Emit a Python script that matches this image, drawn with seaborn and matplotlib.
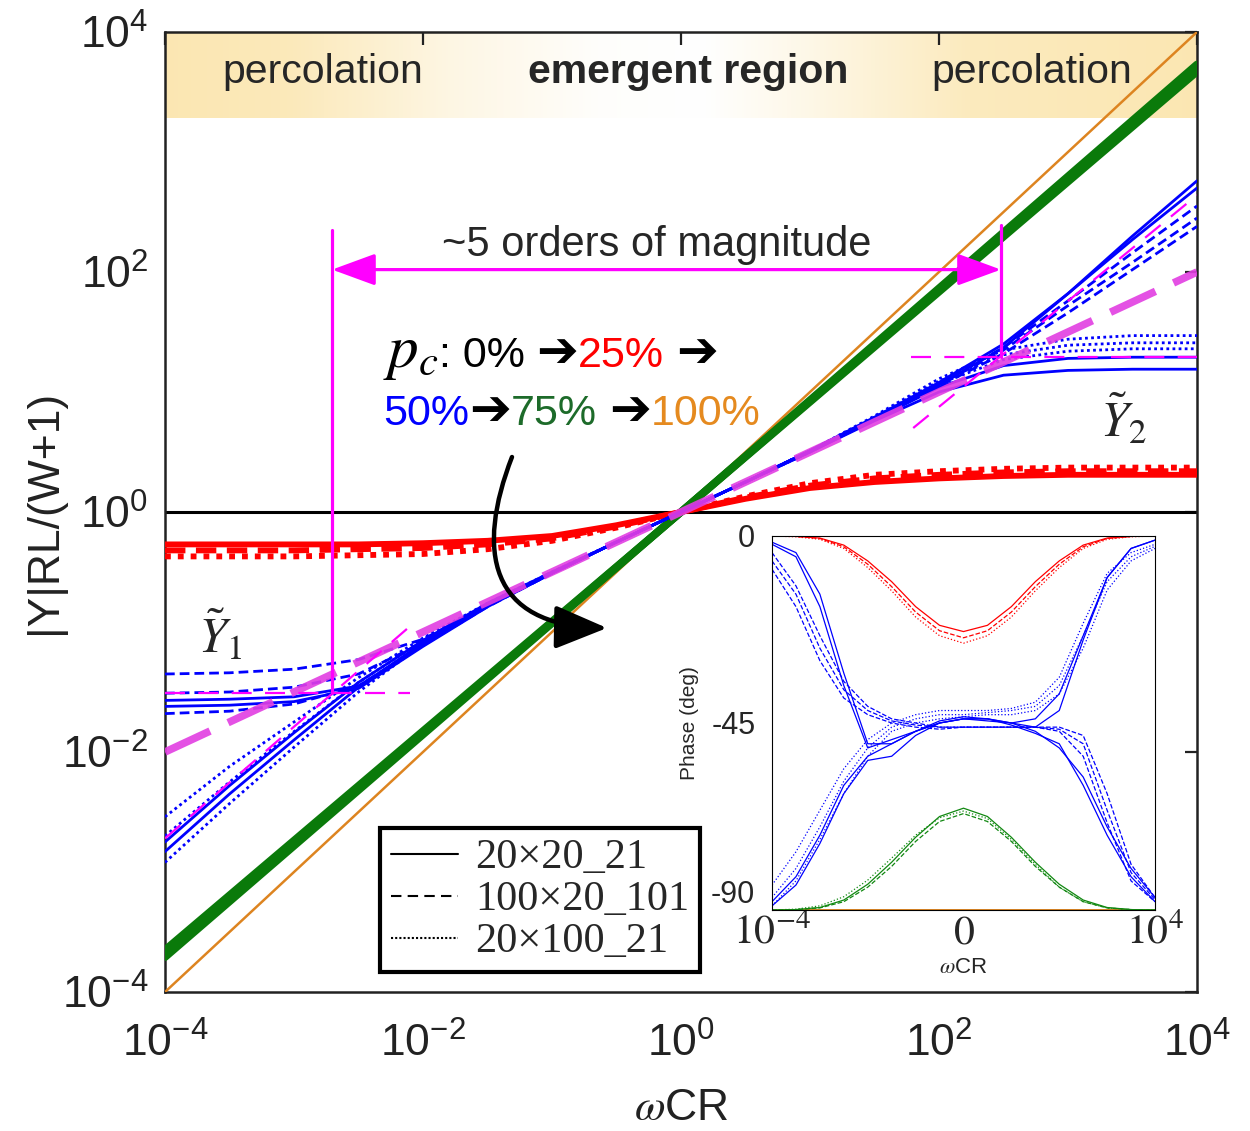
import numpy as np
import matplotlib
matplotlib.use("Agg")
import matplotlib.pyplot as plt
import seaborn as sns
from matplotlib.lines import Line2D
from matplotlib.patches import FancyArrowPatch
from matplotlib.path import Path
from matplotlib.offsetbox import TextArea, HPacker, VPacker, AnnotationBbox
import matplotlib.ticker as mticker

# ---------------------------------------------------------------- data
# log10(omega*C*R) sample grid (half decades)
LOG_W = [-4, -3.5, -3, -2.5, -2, -1.5, -1, -0.5, 0, 0.5, 1, 1.5, 2, 2.5, 3, 3.5, 4]
LOG_W3 = [-4, 0, 4]

# magnitude, log10(|Y|RL/(W+1))
# p_c = 0 %  (red)
mag_red_solid  = [-0.27, -0.27, -0.27, -0.27, -0.26, -0.24, -0.20, -0.11, 0, 0.11, 0.20, 0.25, 0.28, 0.30, 0.31, 0.31, 0.31]
mag_red_dash   = [-0.32, -0.32, -0.32, -0.31, -0.30, -0.27, -0.22, -0.12, 0, 0.12, 0.22, 0.28, 0.31, 0.33, 0.34, 0.34, 0.34]
mag_red_dot    = [-0.37, -0.37, -0.37, -0.36, -0.35, -0.31, -0.24, -0.13, 0, 0.13, 0.24, 0.31, 0.34, 0.36, 0.37, 0.37, 0.37]
# p_c = 50 % (blue)
mag_blue_s1 = [-1.62, -1.61, -1.58, -1.47, -1.12, -0.79, -0.51, -0.25, 0, 0.25, 0.51, 0.78, 1.06, 1.37, 1.82, 2.30, 2.76]
mag_blue_s2 = [-1.57, -1.56, -1.54, -1.45, -1.11, -0.78, -0.51, -0.25, 0, 0.25, 0.50, 0.76, 1.00, 1.14, 1.18, 1.19, 1.19]
mag_blue_s3 = [-2.83, -2.35, -1.90, -1.46, -1.09, -0.77, -0.51, -0.25, 0, 0.25, 0.51, 0.79, 1.08, 1.40, 1.82, 2.27, 2.70]
mag_blue_s4 = [-2.75, -2.28, -1.84, -1.42, -1.07, -0.76, -0.50, -0.25, 0, 0.25, 0.50, 0.77, 1.04, 1.22, 1.28, 1.29, 1.29]
mag_blue_d1 = [-1.35, -1.34, -1.31, -1.23, -1.06, -0.78, -0.51, -0.25, 0, 0.25, 0.51, 0.78, 1.07, 1.37, 1.76, 2.16, 2.55]
mag_blue_d2 = [-1.51, -1.50, -1.46, -1.35, -1.09, -0.78, -0.51, -0.25, 0, 0.25, 0.51, 0.78, 1.06, 1.35, 1.72, 2.08, 2.45]
mag_blue_d3 = [-1.68, -1.66, -1.60, -1.45, -1.11, -0.79, -0.51, -0.25, 0, 0.25, 0.51, 0.78, 1.05, 1.32, 1.66, 2.02, 2.38]
mag_blue_t1 = [-2.54, -2.12, -1.75, -1.38, -1.05, -0.76, -0.50, -0.25, 0, 0.25, 0.51, 0.80, 1.11, 1.35, 1.44, 1.47, 1.47]
mag_blue_t2 = [-2.70, -2.25, -1.83, -1.42, -1.07, -0.77, -0.50, -0.25, 0, 0.25, 0.51, 0.79, 1.09, 1.31, 1.39, 1.41, 1.41]
mag_blue_t3 = [-2.92, -2.43, -1.96, -1.50, -1.10, -0.78, -0.51, -0.25, 0, 0.25, 0.50, 0.78, 1.07, 1.27, 1.34, 1.36, 1.36]
# p_c = 75 % (green) and 100 % (orange), on LOG_W3
mag_green_1 = [-3.68, 0, 3.70]
mag_green_2 = [-3.65, 0, 3.73]
mag_green_3 = [-3.71, 0, 3.67]
mag_orange  = [-4.0, 0, 4.0]
# slope-1/2 guide (thick magenta dashes), on LOG_W3
mag_guide_half = [-2.0, 0, 2.0]

# magenta construction lines (log10 values)
plateau_left_x,  plateau_left_y  = [-4.0, -2.1], [-1.51, -1.51]
plateau_right_x, plateau_right_y = [1.78, 4.0], [1.29, 1.29]
diag_left_x,  diag_left_y  = [-4.0, -2.12], [-2.72, -0.97]
diag_right_x, diag_right_y = [1.80, 4.0], [0.70, 2.64]
cross_left_x, cross_right_x = -2.705, 2.48
vline_left_y  = [-1.51, 2.35]
vline_right_y = [1.29, 2.39]
arrow_y = 2.02

# phase (deg) for the inset
ph_red_solid = [0, -0.1, -0.5, -2.2, -6.0, -11.0, -17.0, -21.5, -23.0, -21.5, -17.0, -11.0, -6.0, -2.2, -0.5, -0.1, 0]
ph_red_dash  = [0, -0.1, -0.6, -2.6, -6.8, -12.2, -18.3, -22.8, -24.5, -22.8, -18.3, -12.2, -6.8, -2.6, -0.6, -0.1, 0]
ph_red_dot   = [0, -0.2, -0.8, -3.0, -7.6, -13.2, -19.5, -24.0, -25.8, -24.0, -19.5, -13.2, -7.6, -3.0, -0.8, -0.2, 0]
ph_green_1 = [-90, -89.9, -89.4, -87.6, -83.8, -78.5, -72.5, -67.5, -65.5, -67.5, -72.5, -78.5, -83.8, -87.6, -89.4, -89.9, -90]
ph_green_2 = [-90, -89.9, -89.5, -88.0, -84.5, -79.5, -73.5, -68.7, -66.8, -68.7, -73.5, -79.5, -84.5, -88.0, -89.5, -89.9, -90]
ph_green_3 = [-90, -89.8, -89.0, -86.8, -82.8, -77.5, -72.0, -67.8, -66.2, -68.0, -73.0, -79.0, -84.5, -88.0, -89.5, -89.9, -90]
ph_orange = [-90, -90, -90]
ph_blue_s1 = [-2, -5, -17, -36, -51, -49, -47, -44.5, -43.5, -44, -45.5, -47.5, -50, -60, -72, -82, -88]
ph_blue_s2 = [-1.5, -4, -14, -33, -50, -50, -47, -45, -44, -44, -45, -46, -42, -25, -10, -3, -1]
ph_blue_s3 = [-89, -84, -74, -62, -54, -53, -48, -45, -44, -44, -45, -47, -51, -58, -70, -80, -87]
ph_blue_s4 = [-88, -82, -72, -60, -53, -50, -47, -45, -44, -44.5, -45, -44, -38, -24, -10, -3, -1]
ph_blue_d1 = [-4, -12, -24, -35, -41, -44, -45, -46, -46, -46, -46, -46, -46, -48, -62, -79, -87]
ph_blue_d2 = [-6, -14, -27, -37, -42, -44.5, -45.5, -46, -46, -46, -46, -46, -46.5, -50, -66, -81, -87.5]
ph_blue_d3 = [-8, -17, -30, -39, -43, -45, -46, -46.5, -46, -46, -46, -46, -47, -53, -69, -83, -88]
ph_blue_t1 = [-84, -76, -66, -56, -49, -45, -43, -42, -42, -42, -41.5, -40, -34, -21, -9, -4, -2]
ph_blue_t2 = [-87, -80, -70, -59, -51, -46, -44, -43, -43, -42.5, -42, -41, -36, -24, -11, -5, -2.5]
ph_blue_t3 = [-89, -83, -73, -62, -53, -47, -45, -44, -43.5, -43, -43, -42, -38, -27, -13, -6, -3]

main_ticks = [-4, -2, 0, 2, 4]
legend_labels = ["20×20_21", "100×20_101", "20×100_21"]
band_labels = ["percolation", "emergent region", "percolation"]
band_label_x = [-2.775, 0.054, 2.72]
band_label_y = 3.667
band_bottom_y = 3.28

# ---------------------------------------------------------------- style
sns.set_theme(style="white")
plt.rcParams["font.family"] = ["Liberation Sans", "DejaVu Sans"]
plt.rcParams["mathtext.fontset"] = "stix"

RED, BLUE, GREEN, ORANGE = "#ff0000", "#0000ff", "#0a7a0a", "#dd8420"
MAG = "#ff00ff"
SOLID, DASH, DOT = "-", (0, (3.5, 1.8)), (0, (1, 1.2))


def tenpow(v):
    return [10.0 ** a for a in v]


def draw(ax, lx, ly, log_y=True, **kw):
    xs = tenpow(lx)
    ys = tenpow(ly) if log_y else list(ly)
    sns.lineplot(x=xs, y=ys, ax=ax, estimator=None, sort=False, legend=False, **kw)


fig = plt.figure(figsize=(12.5, 11.31), dpi=100)
ax = fig.add_axes([0.132, 0.1229, 0.8256, 0.8488])
ax.set_xscale("log")
ax.set_yscale("log")
ax.set_xlim(1e-4, 1e4)
ax.set_ylim(1e-4, 1e4)
ax.set_autoscale_on(False)

# shaded band at the top (horizontal fade)
stops_x = [0.0, 0.12, 0.28, 0.42, 0.52, 0.62, 0.78, 1.0]
stops_a = [1.0, 0.9, 0.35, 0.05, 0.0, 0.3, 0.85, 1.0]
fx = np.linspace(0, 1, 400)
alpha = np.interp(fx, stops_x, stops_a)
gold = np.array([0.985, 0.905, 0.70])
img = 1 - alpha[:, None] * (1 - gold[None, :])
band_frac = (band_bottom_y + 4) / 8
ax.imshow(img[None, :, :], extent=(0, 1, band_frac, 1), transform=ax.transAxes,
          aspect="auto", zorder=0, interpolation="bilinear")

ax.axhline(1, color="black", lw=2.2, zorder=2)

# orange, green
draw(ax, LOG_W3, mag_orange, color=ORANGE, linewidth=1.8, zorder=3)
for g in [mag_green_1, mag_green_2, mag_green_3]:
    draw(ax, LOG_W3, g, color=GREEN, linewidth=5.5, zorder=3)
# red
for r, ls in zip([mag_red_solid, mag_red_dash, mag_red_dot], [SOLID, DASH, DOT]):
    draw(ax, LOG_W, r, color=RED, linewidth=4.2, linestyle=ls, zorder=4)
# blue
for b, ls in [(mag_blue_s1, SOLID), (mag_blue_s2, SOLID), (mag_blue_s3, SOLID), (mag_blue_s4, SOLID),
              (mag_blue_d1, DASH), (mag_blue_d2, DASH), (mag_blue_d3, DASH),
              (mag_blue_t1, DOT), (mag_blue_t2, DOT), (mag_blue_t3, DOT)]:
    draw(ax, LOG_W, b, color=BLUE, linewidth=2.0, linestyle=ls, zorder=5)

# magenta guides
draw(ax, LOG_W3, mag_guide_half, color="#e23ee2", linewidth=5.5, alpha=0.9,
     linestyle=(0, (6.5, 2.6)), zorder=6)
thin = dict(color=MAG, linewidth=1.6, linestyle=(0, (9, 6)), zorder=6)
draw(ax, plateau_left_x, plateau_left_y, **thin)
draw(ax, plateau_right_x, plateau_right_y, **thin)
draw(ax, diag_left_x, diag_left_y, **thin)
draw(ax, diag_right_x, diag_right_y, **thin)
draw(ax, [cross_left_x, cross_left_x], vline_left_y, color=MAG, linewidth=2.3, zorder=6)
draw(ax, [cross_right_x, cross_right_x], vline_right_y, color=MAG, linewidth=2.3, zorder=6)
ax.annotate("", xy=(10 ** cross_left_x, 10 ** arrow_y), xytext=(10 ** cross_right_x, 10 ** arrow_y),
            arrowprops=dict(arrowstyle="<|-|>,head_length=1.5,head_width=0.55", color=MAG,
                            lw=2.3, mutation_scale=18, shrinkA=0, shrinkB=0), zorder=7)
ax.text(10 ** -0.186, 10 ** 2.225, "~5 orders of magnitude", fontsize=30, ha="center",
        va="center", zorder=8)

# band labels
for s, lx in zip(band_labels, band_label_x):
    ax.text(10 ** lx, 10 ** band_label_y, s, fontsize=29.5, ha="center", va="center",
            fontweight="bold" if s.startswith("emergent") else "normal", zorder=8)

# tilde Y labels
ax.text(10 ** -3.57, 10 ** -1.03, r"$\tilde{Y}_1$", fontsize=36, ha="center", va="center", zorder=8)
ax.text(10 ** 3.43, 10 ** 0.767, r"$\tilde{Y}_2$", fontsize=36, ha="center", va="center", zorder=8)

# p_c text
def ta(s, **kw):
    kw.setdefault("fontsize", 31)
    kw.setdefault("color", "black")
    return TextArea(s, textprops=kw)

arrow_kw = dict(family=["DejaVu Sans"], fontweight="bold", fontsize=36)
line1 = HPacker(children=[ta(r"$p_c$", fontsize=44), ta(": 0% "), ta("➔", **arrow_kw),
                          ta("25%", color=RED), ta(" "), ta("➔", **arrow_kw)],
                align="baseline", pad=0, sep=0)
line2 = HPacker(children=[ta("50%", color=BLUE), ta("➔", **arrow_kw), ta("75%", color="#1d6b2a"),
                          ta(" "), ta("➔", **arrow_kw), ta("100%", color="#e58a1f")],
                align="baseline", pad=0, sep=0)
vbox = VPacker(children=[line1, line2], align="left", pad=0, sep=4)
ab = AnnotationBbox(vbox, (0.2112, 0.697), xycoords=ax.transAxes, box_alignment=(0, 1),
                    frameon=False, zorder=8)
ax.add_artist(ab)

# legend
handles = [Line2D([], [], color="black", lw=1.5, linestyle=ls) for ls in ["-", (0, (5, 3)), (0, (1, 1))]]
leg = ax.legend(handles, legend_labels, loc="lower left", bbox_to_anchor=(0.2083, 0.0208),
                borderaxespad=0, prop={"family": "Liberation Serif", "size": 30.5},
                handlelength=1.6, handletextpad=0.4, labelspacing=0.08, borderpad=0.25,
                fancybox=False, framealpha=1, edgecolor="black")
leg.get_frame().set_linewidth(3)
leg.set_zorder(9)

# axes styling
for sp in ax.spines.values():
    sp.set_color("#222222")
    sp.set_linewidth(1.8)
ax.set_xticks([10.0 ** t for t in main_ticks])
ax.set_yticks([10.0 ** t for t in main_ticks])
tick_lbls = [r"$\mathregular{10^{%d}}$" % t for t in main_ticks]
ax.set_xticklabels(tick_lbls)
ax.set_yticklabels(tick_lbls)
ax.xaxis.set_minor_locator(mticker.NullLocator())
ax.yaxis.set_minor_locator(mticker.NullLocator())
ax.tick_params(which="major", direction="in", length=9, width=1.6, top=True, right=True,
               labelsize=32, color="#222222", labelcolor="#222222")
ax.tick_params(axis="x", pad=22)
ax.tick_params(axis="y", pad=12)
ax.set_ylabel("|Y|RL/(W+1)", fontsize=32, color="#222222")
ax.yaxis.set_label_coords(-0.097, 0.5)
ax.set_xlabel(r"$\omega$CR", fontsize=32, color="#222222")
ax.xaxis.set_label_coords(0.5, -0.1)
ax.grid(False)

# curved black arrow (figure pixel coords converted to fractions)
W_, H_ = 1250.0, 1131.0
pts = [(512, 457), (476, 550), (488, 626), (607, 628)]
verts = [(x / W_, 1 - y / H_) for x, y in pts]
curve = FancyArrowPatch(path=Path(verts, [Path.MOVETO, Path.CURVE4, Path.CURVE4, Path.CURVE4]),
                        arrowstyle="-|>,head_length=1.8,head_width=0.75", mutation_scale=18,
                        lw=3.2, color="black", transform=fig.transFigure, zorder=10)
fig.add_artist(curve)

# ---------------------------------------------------------------- inset
ins = fig.add_axes([0.6176, 0.1954, 0.3064, 0.3307])
ins.set_facecolor("white")
ins.set_xscale("log")
ins.set_xlim(1e-4, 1e4)
ins.set_ylim(-90, 0)

draw(ins, LOG_W3, ph_orange, log_y=False, color=ORANGE, linewidth=1.4)
for p, ls in zip([ph_red_solid, ph_red_dash, ph_red_dot], ["-", "--", ":"]):
    draw(ins, LOG_W, p, log_y=False, color=RED, linewidth=0.9, linestyle=ls)
for p, ls in zip([ph_green_1, ph_green_2, ph_green_3], ["-", "--", ":"]):
    draw(ins, LOG_W, p, log_y=False, color="#118811", linewidth=0.9, linestyle=ls)
for p, ls in [(ph_blue_s1, "-"), (ph_blue_s2, "-"), (ph_blue_s3, "-"), (ph_blue_s4, "-"),
              (ph_blue_d1, "--"), (ph_blue_d2, "--"), (ph_blue_d3, "--"),
              (ph_blue_t1, ":"), (ph_blue_t2, ":"), (ph_blue_t3, ":")]:
    draw(ins, LOG_W, p, log_y=False, color=BLUE, linewidth=0.9, linestyle=ls)

for sp in ins.spines.values():
    sp.set_color("black")
    sp.set_linewidth(0.8)
ins.set_xticks([1e-4, 1, 1e4])
ins.set_xticklabels([r"$10^{-4}$", r"$0$", r"$10^{4}$"], fontsize=30)
ins.xaxis.set_minor_locator(mticker.NullLocator())
ins.set_yticks([-90, -45, 0])
ins.set_yticklabels(["-90", "-45", "0"], fontsize=22)
ins.get_yticklabels()[0].set_va("bottom")
ins.tick_params(direction="in", length=0, pad=2, axis="x")
ins.tick_params(direction="in", length=0, pad=12, axis="y")
ins.set_ylabel("Phase (deg)", fontsize=15)
ins.yaxis.set_label_coords(-0.19, 0.5)
ins.set_xlabel(r"$\omega$CR", fontsize=16)
ins.xaxis.set_label_coords(0.5, -0.125)
ins.grid(False)

fig.savefig("out.png", dpi=100)
